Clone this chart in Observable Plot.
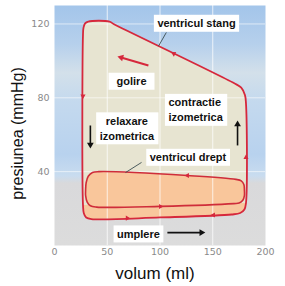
<!DOCTYPE html>
<html><head><meta charset="utf-8">
<script src="https://cdn.jsdelivr.net/npm/d3@7"></script>
<script src="https://cdn.jsdelivr.net/npm/@observablehq/plot@0.6"></script>
<style>body{margin:0;background:#fff;} svg{display:block;}</style>
</head><body>
<svg width="0" height="0" style="position:absolute"><defs>
<linearGradient id="bg" x1="0" y1="0" x2="0" y2="1">
<stop offset="0" stop-color="#a3c5ea"/>
<stop offset="0.16" stop-color="#b6d0ec"/>
<stop offset="0.28" stop-color="#d3e0ea"/>
<stop offset="0.40" stop-color="#c4d9ee"/>
<stop offset="0.62" stop-color="#b8d2ee"/>
<stop offset="0.71" stop-color="#c9dcef"/>
<stop offset="0.74" stop-color="#d9d9db"/>
<stop offset="1" stop-color="#dcdcdc"/>
</linearGradient></defs></svg>
<script>
// axis ticks
const xTicks = [0, 50, 100, 150, 200];
const yTicks = [40, 80, 120];
// left ventricle (ventricul stang) loop outline: volume (ml), pressure (mmHg)
const lvVolume   = [27, 27.8, 30, 35, 100, 168, 176, 180, 181.5, 181.5, 180.5, 177, 170, 56, 52, 32, 29, 27.5, 27];
const lvPressure = [22, 17.5, 15.2, 14.3, 15.2, 16.8, 17.6, 19.5, 23, 77, 81.5, 85.5, 88, 120, 121.3, 121.3, 120.3, 118, 114];
// right ventricle (ventricul drept) loop outline
const rvVolume   = [29.5, 30, 32, 36, 42, 126, 172, 177, 179.5, 180, 180, 178.5, 175, 170, 100, 40, 34, 31, 29.5];
const rvPressure = [30, 34, 37.5, 39.5, 40, 37.9, 35.8, 35, 33, 30, 27, 24.5, 23, 22.7, 21.2, 20.8, 21.5, 23.5, 27];
// small direction markers on the loops
const markVolume   = [27, 113, 181.5, 69, 150.7, 126, 100.5];
const markPressure = [81, 103.9, 47.7, 14.8, 16.5, 37.9, 21.1];
const markAngle    = [180, 297, 0, 90, 270, 270, 90];
// labels
const labelText     = ["ventricul stang", "golire", "relaxare\nizometrica", "ventricul drept", "umplere"];
const labelVolume   = [134.6, 73, 68.6, 126.5, 79.6];
const labelPressure = [120.8, 89.4, 63.9, 48.2, 6.7];
const leftLabelText = ["contractie\nizometrica"];
const leftLabelVolume = [108];
const leftLabelPressure = [73.9];
// leader lines
const leaderX1 = [106, 82.5], leaderY1 = [115.4, 45];
const leaderX2 = [98.6, 67.3], leaderY2 = [108, 39.5];
// black arrows
const arrowX1 = [173.5, 34, 107], arrowY1 = [54.2, 65, 7];
const arrowX2 = [173.5, 34, 139.3], arrowY2 = [65.6, 54.6, 7];
const arrowAngle = [0, 180, 90];
// red "golire" arrow
const ejectX1 = [89], ejectY1 = [97.5], ejectX2 = [63.2], ejectY2 = [101.8], ejectAngle = [286];

const red = "#d6283c";
const lv = lvVolume.map((v, i) => ({v, p: lvPressure[i]}));
const rv = rvVolume.map((v, i) => ({v, p: rvPressure[i]}));
const band = lv.filter(d => d.p < 30);
const marks = markVolume.map((v, i) => ({v, p: markPressure[i], a: markAngle[i]}));
const labels = labelText.map((t, i) => ({t, v: labelVolume[i], p: labelPressure[i]}));
const leftLabels = leftLabelText.map((t, i) => ({t, v: leftLabelVolume[i], p: leftLabelPressure[i]}));
const leaders = leaderX1.map((x, i) => ({x1: x, y1: leaderY1[i], x2: leaderX2[i], y2: leaderY2[i]}));
const arrows = arrowX1.map((x, i) => ({x1: x, y1: arrowY1[i], x2: arrowX2[i], y2: arrowY2[i], a: arrowAngle[i]}));
const eject = ejectX1.map((x, i) => ({x1: x, y1: ejectY1[i], x2: ejectX2[i], y2: ejectY2[i], a: ejectAngle[i]}));

const lblFont = {fontFamily: "Liberation Sans, Arial, sans-serif", fontWeight: "bold", fontSize: 11, fill: "#111", lineHeight: 1.36};

const chart = Plot.plot({
  width: 285, height: 286,
  marginLeft: 54, marginRight: 20, marginTop: 5, marginBottom: 41,
  style: {fontFamily: "DejaVu Sans, sans-serif", fontSize: "9.5px", background: "#fff"},
  x: {domain: [0, 200]},
  y: {domain: [0, 130]},
  marks: [
    Plot.frame({fill: "url(#bg)", stroke: "none"}),
    Plot.line(lv, {x: "v", y: "p", curve: "catmull-rom-closed", fill: "#e7e4d1", stroke: "none"}),
    Plot.line(band, {x: "v", y: "p", curve: "linear-closed", fill: "#f8c79d", stroke: "none"}),
    Plot.line(rv, {x: "v", y: "p", curve: "catmull-rom-closed", fill: "#f9c69b", stroke: "none"}),
    Plot.gridX([50, 100, 150], {stroke: "#fff", strokeOpacity: 0.75, strokeWidth: 1}),
    Plot.gridY(yTicks, {stroke: "#fff", strokeOpacity: 0.6, strokeWidth: 1}),
    Plot.line(lv, {x: "v", y: "p", curve: "catmull-rom-closed", stroke: red, strokeWidth: 1.8}),
    Plot.line(rv, {x: "v", y: "p", curve: "catmull-rom-closed", stroke: "#cf2d3a", strokeWidth: 1.6}),
    Plot.dot(marks, {x: "v", y: "p", symbol: "triangle", rotate: "a", r: 1.9, fill: red, stroke: "none"}),
    Plot.link(leaders, {x1: "x1", y1: "y1", x2: "x2", y2: "y2", stroke: "#3b4d50", strokeWidth: 0.9}),
    Plot.link(arrows, {x1: "x1", y1: "y1", x2: "x2", y2: "y2", stroke: "#111", strokeWidth: 1.6}),
    Plot.dot(arrows, {x: "x2", y: "y2", symbol: "triangle", rotate: "a", r: 2.5, fill: "#111", stroke: "none"}),
    Plot.link(eject, {x1: "x1", y1: "y1", x2: "x2", y2: "y2", stroke: red, strokeWidth: 2}),
    Plot.dot(eject, {x: "x2", y: "y2", symbol: "triangle", rotate: "a", r: 2.5, fill: red, stroke: "none"}),
    Plot.text(labels, {x: "v", y: "p", text: "t", textAnchor: "middle", className: "lbl", ...lblFont}),
    Plot.text(leftLabels, {x: "v", y: "p", text: "t", textAnchor: "start", className: "lbl", ...lblFont}),
    Plot.axisX(xTicks, {tickSize: 0, tickPadding: 3, color: "#8a8a8a", label: null}),
    Plot.axisY(yTicks, {tickSize: 0, tickPadding: 5, color: "#8a8a8a", label: null}),
    Plot.text(["volum (ml)"], {frameAnchor: "bottom", textAnchor: "middle", lineAnchor: "middle", dy: 28, dx: -5, fontSize: 17, fontFamily: "Liberation Sans, Arial, sans-serif", fill: "#111"}),
    Plot.text(["presiunea (mmHg)"], {frameAnchor: "left", textAnchor: "middle", lineAnchor: "middle", rotate: -90, dx: -37, dy: 8, fontSize: 16, fontFamily: "Liberation Sans, Arial, sans-serif", fill: "#111"})
  ]
});
document.body.append(chart);
// white boxes behind the annotation labels
chart.querySelectorAll("g.lbl text").forEach(t => {
  const b = t.getBBox();
  const padX = t.textContent === "golire" ? 8 : 3.5, padY = 2.5;
  const r = document.createElementNS("http://www.w3.org/2000/svg", "rect");
  r.setAttribute("x", b.x - padX); r.setAttribute("y", b.y - padY);
  r.setAttribute("width", b.width + 2 * padX); r.setAttribute("height", b.height + 2 * padY);
  r.setAttribute("fill", "#fff"); r.setAttribute("stroke", "none");
  if (t.getAttribute("transform")) r.setAttribute("transform", t.getAttribute("transform"));
  t.parentNode.insertBefore(r, t);
});
</script>
</body></html>
